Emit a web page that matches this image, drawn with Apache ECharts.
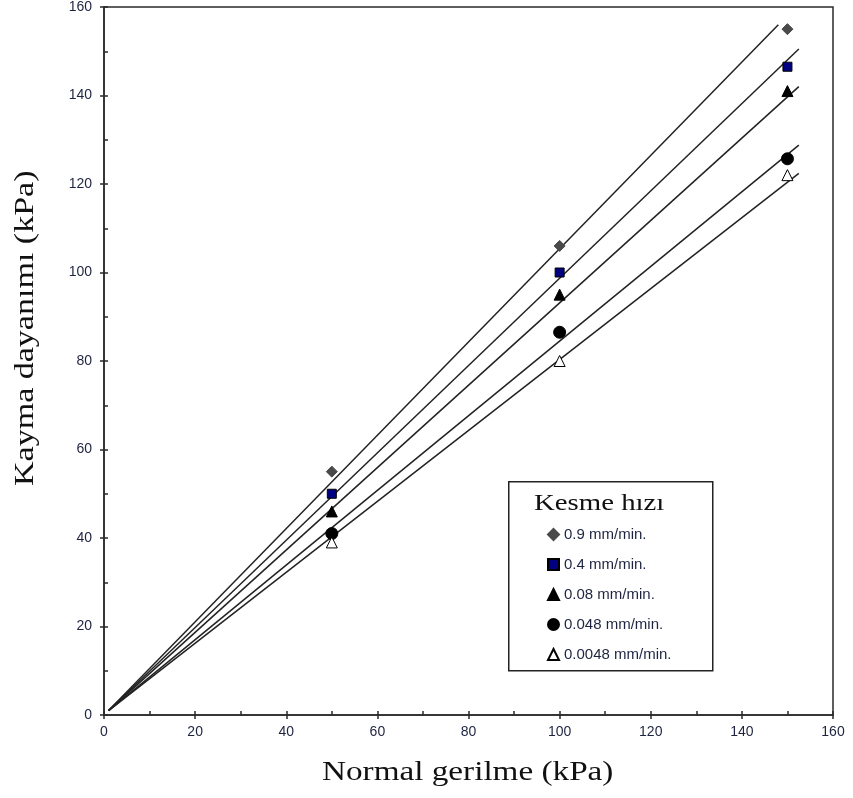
<!DOCTYPE html>
<html>
<head>
<meta charset="utf-8">
<script src="https://cdn.jsdelivr.net/npm/echarts@6/dist/echarts.min.js"></script>
<style>html,body{margin:0;padding:0;background:#fff}#c{width:853px;height:798px}</style>
</head>
<body>
<div id="c"></div>
<script>
var seriesNames = ['0.9 mm/min.', '0.4 mm/min.', '0.08 mm/min.', '0.048 mm/min.', '0.0048 mm/min.'];
var xValues = [50, 100, 150];
var yDiamond = [55, 106, 155];
var ySquare = [50, 100, 146.5];
var yTriangle = [46, 95, 141];
var yCircle = [41, 86.5, 125.7];
var yOpenTri = [39, 80, 122];
var lineDiamond = [[1, 1], [148, 156]];
var lineSquare = [[1, 1], [152.5, 150.5]];
var lineTriangle = [[1, 1], [152.5, 142]];
var lineCircle = [[1, 1], [152.5, 128.8]];
var lineOpenTri = [[1, 1], [152.5, 122.4]];
var xTicks = [0, 20, 40, 60, 80, 100, 120, 140, 160];
var yTicks = [0, 20, 40, 60, 80, 100, 120, 140, 160];

var ys = [yDiamond, ySquare, yTriangle, yCircle, yOpenTri];
var lines = [lineDiamond, lineSquare, lineTriangle, lineCircle, lineOpenTri];
var symbols = ['diamond', 'rect', 'triangle', 'circle', 'triangle'];
var sizes = [11, 9, 11, 12, 11];
var fills = ['#4a4a4a', '#000080', '#000000', '#000000', '#ffffff'];
var borders = ['#4a4a4a', '#000000', '#000000', '#000000', '#000000'];

function pts(y) { return xValues.map(function (x, i) { return [x, y[i]]; }); }

var series = [];
lines.forEach(function (l) {
  series.push({
    type: 'line', data: l, symbol: 'none', silent: true,
    lineStyle: { color: '#222', width: 1.5 }, z: 2
  });
});
ys.forEach(function (y, i) {
  series.push({
    type: 'scatter', name: seriesNames[i], data: pts(y),
    symbol: symbols[i], symbolSize: sizes[i],
    itemStyle: { color: fills[i], borderColor: borders[i], borderWidth: 1, opacity: 1 }, z: 5
  });
});

var sans = 'Liberation Sans, Arial, sans-serif';
var serif = 'Liberation Serif, Times New Roman, serif';
var axisColor = '#2a2a2a';

var chart = echarts.init(document.getElementById('c'));
chart.setOption({
  animation: false,
  backgroundColor: '#fff',
  grid: { left: 104, right: 20, top: 5, bottom: 83, show: true, borderColor: axisColor, borderWidth: 1.5, backgroundColor: 'transparent' },
  xAxis: [{
    type: 'value', min: xTicks[0], max: xTicks[xTicks.length - 1], interval: 20,
    axisLine: { show: true, lineStyle: { color: axisColor, width: 1.5 } },
    axisTick: { show: true, inside: false, length: 4, lineStyle: { color: axisColor, width: 1.5 } },
    axisLabel: { margin: 10, color: '#1e2440', fontFamily: sans, fontSize: 14 },
    splitLine: { show: false }
  }, {
    type: 'value', position: 'bottom', min: xTicks[0], max: xTicks[xTicks.length - 1], interval: 20,
    axisLine: { show: false },
    axisTick: { show: true, inside: true, length: 4, lineStyle: { color: axisColor, width: 1.5 } },
    minorTick: { show: true, splitNumber: 2, length: 4, lineStyle: { color: axisColor, width: 1.5 } },
    axisLabel: { show: false }, splitLine: { show: false }
  }],
  yAxis: [{
    type: 'value', min: yTicks[0], max: yTicks[yTicks.length - 1], interval: 20,
    axisLine: { show: true, lineStyle: { color: axisColor, width: 1.5 } },
    axisTick: { show: true, inside: false, length: 4, lineStyle: { color: axisColor, width: 1.5 } },
    axisLabel: { margin: 12, color: '#1e2440', fontFamily: sans, fontSize: 14 },
    splitLine: { show: false }
  }, {
    type: 'value', position: 'left', min: yTicks[0], max: yTicks[yTicks.length - 1], interval: 20,
    axisLine: { show: false },
    axisTick: { show: true, inside: true, length: 4, lineStyle: { color: axisColor, width: 1.5 } },
    minorTick: { show: true, splitNumber: 2, length: 4, lineStyle: { color: axisColor, width: 1.5 } },
    axisLabel: { show: false }, splitLine: { show: false }
  }],
  legend: {
    data: seriesNames, orient: 'vertical', left: 542, top: 522,
    itemWidth: 11, itemHeight: 11, itemGap: 15,
    textStyle: { fontFamily: sans, fontSize: 15, color: '#1e2440', lineHeight: 15 },
    selectedMode: false
  },
  graphic: [
    { type: 'rect', left: 508, top: 481, shape: { width: 204, height: 189 }, style: { fill: 'rgba(0,0,0,0)', stroke: '#222', lineWidth: 1.5 }, z: 10 },
    { type: 'text', x: 534, y: 492, scaleX: 1.2, style: { text: 'Kesme hızı', font: '24px ' + serif, fill: '#111' }, z: 11 },
    { type: 'text', x: 322, y: 759, scaleX: 1.23, style: { text: 'Normal gerilme (kPa)', font: '27px ' + serif, fill: '#111' }, z: 11 },
    { type: 'text', x: 12, y: 486, rotation: Math.PI / 2, scaleX: 1.26, style: { text: 'Kayma dayanımı (kPa)', font: '27px ' + serif, fill: '#111' }, z: 11 }
  ],
  series: series
});
</script>
</body>
</html>
